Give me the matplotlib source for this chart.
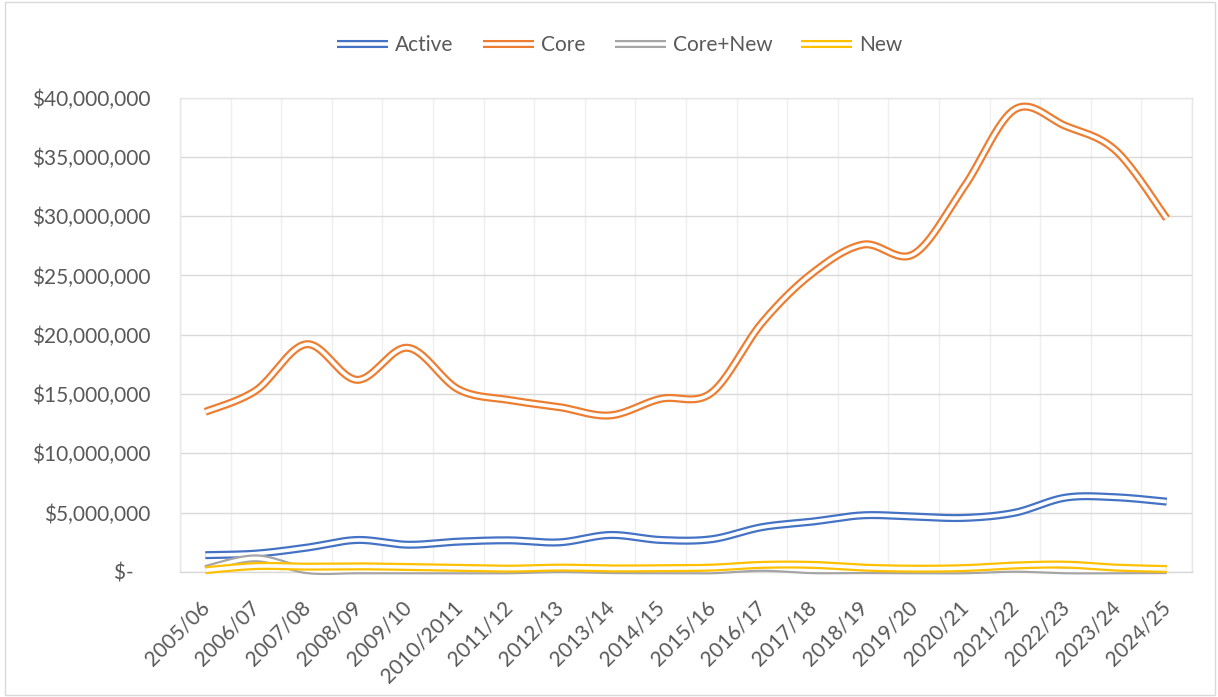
import numpy as np
import matplotlib
matplotlib.use("Agg")
import matplotlib.pyplot as plt
import matplotlib.patheffects as pe
import matplotlib.transforms as mtransforms
from matplotlib.ticker import FuncFormatter, MultipleLocator, FixedLocator
from matplotlib.patches import Rectangle

# ---------------- data (values in millions of dollars) ----------------
categories = ['2005/06', '2006/07', '2007/08', '2008/09', '2009/10', '2010/2011',
              '2011/12', '2012/13', '2013/14', '2014/15', '2015/16', '2016/17',
              '2017/18', '2018/19', '2019/20', '2020/21', '2021/22', '2022/23',
              '2023/24', '2024/25']
active = [1.42, 1.55, 2.05, 2.70, 2.30, 2.56, 2.67, 2.50, 3.12, 2.70,
          2.76, 3.78, 4.25, 4.78, 4.67, 4.56, 5.00, 6.27, 6.30, 5.93]
core = [13.5, 15.3, 19.2, 16.2, 18.9, 15.4, 14.5, 13.9, 13.2, 14.6,
        15.1, 21.0, 25.2, 27.6, 26.8, 32.5, 39.0, 37.6, 35.5, 29.8]
core_new = [0.25, 1.15, 0.16, 0.14, 0.14, 0.14, 0.14, 0.24, 0.16, 0.14,
            0.14, 0.35, 0.15, 0.16, 0.14, 0.14, 0.27, 0.14, 0.14, 0.16]
new = [0.15, 0.50, 0.45, 0.48, 0.42, 0.35, 0.28, 0.37, 0.30, 0.32,
       0.37, 0.60, 0.60, 0.37, 0.28, 0.33, 0.55, 0.62, 0.37, 0.25]

series_names = ['Active', 'Core', 'Core+New', 'New']
series_values = [active, core, core_new, new]
series_colors = ['#4472C4', '#ED7D31', '#A5A5A5', '#FFC000']

TEXT = '#595959'
FONT = ['Lato', 'DejaVu Sans']
FS = 15


def smooth(xv, yv, n=40):
    """Excel-like smoothed line: cubic Bezier segments with Catmull-Rom controls."""
    x = np.asarray(xv, float)
    y = np.asarray(yv, float)
    px = np.concatenate([[x[0]], x, [x[-1]]])
    py = np.concatenate([[y[0]], y, [y[-1]]])
    t = np.linspace(0, 1, n)
    outx, outy = [], []
    for i in range(len(x) - 1):
        p0x, p1x, p2x, p3x = px[i], px[i + 1], px[i + 2], px[i + 3]
        p0y, p1y, p2y, p3y = py[i], py[i + 1], py[i + 2], py[i + 3]
        c1x = p1x + (p2x - p0x) / 6
        c1y = p1y + (p2y - p0y) / 6
        c2x = p2x - (p3x - p1x) / 6
        c2y = p2y - (p3y - p1y) / 6
        bx = ((1 - t) ** 3 * p1x + 3 * (1 - t) ** 2 * t * c1x
              + 3 * (1 - t) * t ** 2 * c2x + t ** 3 * p2x)
        by = ((1 - t) ** 3 * p1y + 3 * (1 - t) ** 2 * t * c1y
              + 3 * (1 - t) * t ** 2 * c2y + t ** 3 * p2y)
        if i > 0:
            bx, by = bx[1:], by[1:]
        outx.append(bx)
        outy.append(by)
    return np.concatenate(outx), np.concatenate(outy)


W, H = 1218, 697
fig = plt.figure(figsize=(W / 100, H / 100), dpi=100)
fig.patch.set_facecolor('white')

# outer chart border
fig.patches.append(Rectangle((5 / W, 2 / H), (W - 8) / W, (H - 4) / H,
                             transform=fig.transFigure, fill=False,
                             edgecolor='#D9D9D9', linewidth=1.0))

left, right, top, bottom = 180, 1192, 97.5, 572
ax = fig.add_axes([left / W, 1 - bottom / H, (right - left) / W, (bottom - top) / H])

x = np.arange(len(categories))
ax.set_xlim(-0.5, len(categories) - 0.5)
ax.set_ylim(0, 40e6)

# gridlines
ax.yaxis.set_major_locator(MultipleLocator(5e6))
ax.xaxis.set_major_locator(FixedLocator(x))
ax.xaxis.set_minor_locator(FixedLocator(np.arange(-0.5, len(categories), 1.0)))
ax.grid(axis='y', which='major', color='#D9D9D9', linewidth=1.0, zorder=0)
ax.grid(axis='x', which='minor', color='#EFEFEF', linewidth=1.0, zorder=0)
ax.set_axisbelow(True)
for s in ax.spines.values():
    s.set_color('#E6E6E6')
    s.set_linewidth(1.0)
ax.spines['bottom'].set_color('#D9D9D9')

# series as double lines
outer_lw, inner_lw = 5.8, 2.6
for name, vals, col in zip(series_names, series_values, series_colors):
    sx, sy = smooth(x, np.asarray(vals) * 1e6)
    ax.plot(sx, sy, color='white', linewidth=inner_lw, solid_capstyle='butt',
            label=name, zorder=3, clip_on=False,
            path_effects=[pe.Stroke(linewidth=outer_lw, foreground=col,
                                    capstyle='butt'),
                          pe.Normal()])


def fmt(v, pos):
    if abs(v) < 1:
        return '$-   '
    return '${:,.0f}'.format(v)


ax.yaxis.set_major_formatter(FuncFormatter(fmt))
ax.tick_params(axis='y', which='both', length=0, pad=21.5, labelsize=FS,
               labelcolor=TEXT)
ax.tick_params(axis='x', which='both', length=0, labelsize=FS, labelcolor=TEXT)
ax.set_xticks(x)
ax.set_xticklabels(categories, rotation=45, ha='right', va='top',
                   rotation_mode='anchor')
shift = mtransforms.ScaledTranslation(-6 / 100, -20 / 100, fig.dpi_scale_trans)
for lab in ax.get_xticklabels():
    lab.set_fontfamily(FONT)
    lab.set_transform(lab.get_transform() + shift)
for lab in ax.get_yticklabels():
    lab.set_fontfamily(FONT)

leg = fig.legend(loc='center', bbox_to_anchor=(620 / W, 1 - 45 / H), ncol=4,
                 frameon=False, handlelength=2.45, handletextpad=0.34,
                 columnspacing=1.4, prop={'family': FONT, 'size': FS})
for t in leg.get_texts():
    t.set_color(TEXT)

fig.savefig('out.png', dpi=100, facecolor='white')
